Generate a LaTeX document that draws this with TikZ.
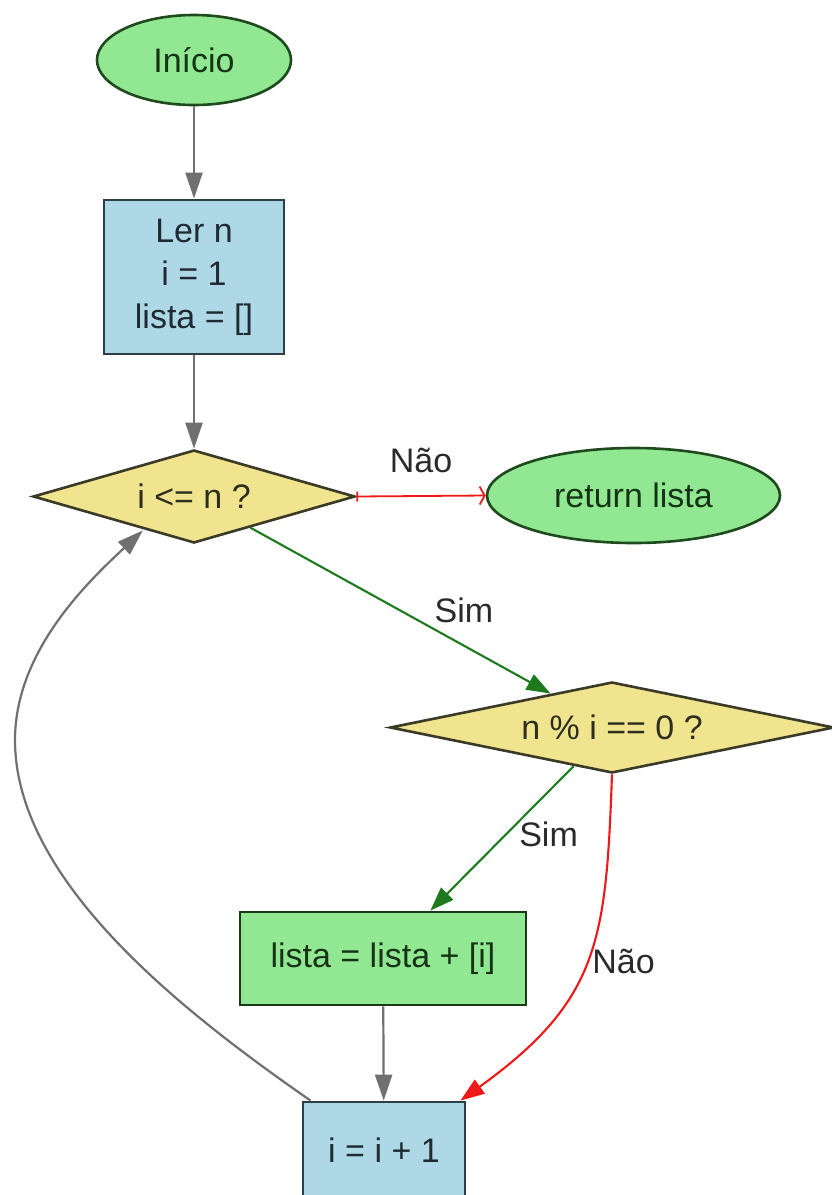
\documentclass[tikz,border=0pt]{standalone}
\usepackage{fontspec}
\setmainfont{Liberation Sans}
\usetikzlibrary{shapes.geometric,arrows.meta}

\definecolor{termfill}{HTML}{92E892}
\definecolor{termdraw}{HTML}{1E4A1E}
\definecolor{procfill}{HTML}{AED8E6}
\definecolor{procdraw}{HTML}{2C3E48}
\definecolor{condfill}{HTML}{F0E48E}
\definecolor{conddraw}{HTML}{3A3A26}
\definecolor{flowgray}{HTML}{707070}
\definecolor{yesgreen}{HTML}{1E7A1E}
\definecolor{nored}{HTML}{F01818}
\definecolor{labeltext}{HTML}{2A2A2A}

\tikzset{
  every node/.style={font=\fontsize{34}{43}\selectfont, text=black!85},
  terminal/.style={ellipse, fill=termfill, draw=termdraw, line width=2.6pt, inner sep=0pt, text=termdraw!70!black},
  procbox/.style={rectangle, fill=procfill, draw=procdraw, line width=2.8pt, inner sep=0pt, align=center, text=procdraw!70!black},
  actbox/.style={rectangle, fill=termfill, draw=termdraw!80!black, line width=2.8pt, inner sep=0pt, text=termdraw!70!black},
  decision/.style={diamond, fill=condfill, draw=conddraw, line width=2.6pt, inner sep=0pt, shape aspect=4, text=conddraw!80!black},
  lbl/.style={text=labeltext, inner sep=0pt},
  flow/.style={draw=flowgray, line width=2.2pt, -{Triangle[length=26pt,width=17pt]}},
  yesflow/.style={draw=yesgreen, line width=2.1pt, -{Triangle[length=24pt,width=17pt]}},
  noflow/.style={draw=nored, line width=2.1pt, -{Triangle[length=24pt,width=17pt]}},
  exitflow/.style={draw=nored, line width=1.8pt, {Bar[width=10pt]}-{Straight Barb[length=5pt,width=18pt]}},
}

\begin{document}
\begin{tikzpicture}[x=1pt,y=-1pt]
\clip (0,0) rectangle (832,1195);
\fill[white] (0,0) rectangle (832,1195);

% nodes
\node[terminal, minimum width=194pt, minimum height=90pt] (start) at (194,60) {Início};
\node[procbox, minimum width=180pt, minimum height=154pt] (init) at (194,277) {Ler n\\i = 1\\lista = []};
\node[decision, minimum width=322pt, minimum height=93pt] (cond) at (194,496.5) {i <= n ?};
\node[terminal, minimum width=293pt, minimum height=95pt] (ret) at (633.5,495.5) {return lista};
\node[decision, minimum width=444pt, minimum height=91pt] (mod) at (612,727.5) {n \% i == 0 ?};
\node[actbox, minimum width=286pt, minimum height=93pt] (append) at (383,958.5) {lista = lista + [i]};
\node[procbox, minimum width=162pt, minimum height=96pt] (inc) at (384,1150) {i = i + 1};

% loop-back waypoint at the far left
\coordinate (loopleft) at (15,740);

% connectors
\draw[flow] (start) -- (init);
\draw[flow] (init) -- (cond);
\draw[exitflow] (cond.east) -- (ret.west)
  node[lbl, midway, above=22pt] {Não};
\draw[yesflow] (cond) -- (mod)
  node[lbl, pos=0.6, above right=3pt] {Sim};
\draw[yesflow] (mod) -- (append)
  node[lbl, pos=0.47, right=12pt] {Sim};
\draw[noflow] (mod.south) .. controls (606,940) and (600,1000) .. ([xshift=-6pt]inc.north east)
  node[lbl, pos=0.5, right=5pt] {Não};
\draw[flow] (append) -- (inc);
\draw[flow] ([xshift=9pt]inc.north west) .. controls (180,1010) and (15,880) .. (loopleft)
  .. controls (15,650) and (90,580) .. ([xshift=30pt,yshift=-10pt]cond.south west);
\end{tikzpicture}
\end{document}
